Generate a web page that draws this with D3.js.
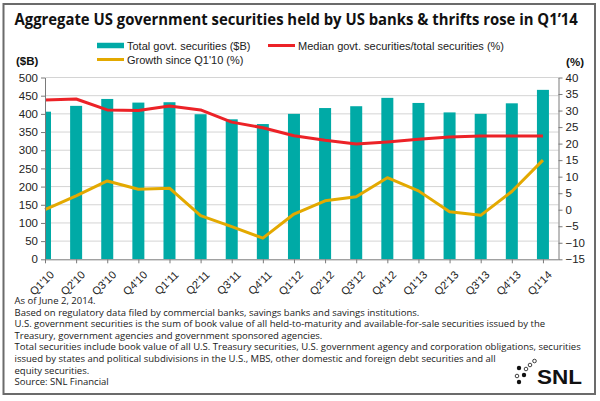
<!DOCTYPE html>
<meta charset="utf-8">
<script src="https://d3js.org/d3.v7.min.js"></script>
<style>
  body { margin: 0; background: #fff; }
  svg text { font-family: "Liberation Sans", Arial, sans-serif; }
</style>
<div id="chart"></div>
<script>

// data
var quarters = ["Q1'10", "Q2'10", "Q3'10", "Q4'10", "Q1'11", "Q2'11", "Q3'11", "Q4'11",
                "Q1'12", "Q2'12", "Q3'12", "Q4'12", "Q1'13", "Q2'13", "Q3'13", "Q4'13", "Q1'14"];
var totalSecurities = [406, 422, 441, 431, 432, 399, 385, 372, 400, 416, 421, 444, 430, 404, 400, 429, 466];
var medianShare = [33.2, 33.5, 30.2, 30.0, 31.4, 30.2, 26.5, 24.8, 22.4, 21.0, 19.9, 20.5, 21.3, 22.0, 22.3, 22.3, 22.3];
var growthSinceQ110 = [0, 4.2, 8.7, 6.2, 6.5, -1.8, -5.1, -8.6, -1.3, 2.7, 3.9, 9.7, 5.7, -0.6, -1.7, 5.5, 15.0];
var leftTicks = d3.range(0, 501, 50);
var rightTicks = d3.range(-15, 41, 5);

var seriesNames = ["Total govt. securities ($B)", "Median govt. securities/total securities (%)", "Growth since Q1'10 (%)"];
var teal = "#00aaa6", red = "#ec2227", gold = "#e3a900";

var title = "Aggregate US government securities held by US banks & thrifts rose in Q1\u201914";
var notes = [
  "As of June 2, 2014.",
  "Based on regulatory data filed by commercial banks, savings banks and savings institutions.",
  "U.S. government securities is the sum of book value of all held-to-maturity and available-for-sale securities issued by the",
  "Treasury, government agencies and government sponsored agencies.",
  "Total securities include book value of all U.S. Treasury securities, U.S. government agency and corporation obligations, securities",
  "issued by states and political subdivisions in the U.S., MBS, other domestic and foreign debt securities and all",
  "equity securities.",
  "Source: SNL Financial"
];

var W = 600, H = 401;
var plot = {left: 45, right: 558.5, top: 77.5, bottom: 259.3};

var svg = d3.select("#chart").append("svg")
    .attr("width", W)
    .attr("height", H);

// outer frame
svg.append("rect")
    .attr("x", 3.5).attr("y", 4)
    .attr("width", 591.5).attr("height", 390)
    .attr("fill", "none")
    .attr("stroke", "#6b6b6b")
    .attr("stroke-width", 2);

// title, squeezed horizontally to the width it has in the original
var titleText = svg.append("text")
    .attr("x", 0).attr("y", 0)
    .style("font-family", "'Open Sans', sans-serif")
    .style("font-weight", "bold")
    .style("font-size", "15.5px")
    .style("fill", "#111")
    .text(title);
var titleW = titleText.node().getComputedTextLength();
titleText.attr("transform", "translate(14.5,24.5) scale(" + (564 / titleW) + ",1)");

// scales
var step = (plot.right - plot.left) / 16.5;
var x = d3.scalePoint()
    .domain(quarters)
    .range([plot.left, plot.left + step * (quarters.length - 1)]);

var yL = d3.scaleLinear().domain([0, 500]).range([plot.bottom, plot.top]);
var yR = d3.scaleLinear().domain([-15, 40]).range([plot.bottom, plot.top]);

// gridlines
svg.append("g")
  .selectAll("line")
  .data(leftTicks.filter(function(d) { return d > 0; }))
  .enter().append("line")
    .attr("x1", plot.left).attr("x2", plot.right)
    .attr("y1", function(d) { return yL(d); })
    .attr("y2", function(d) { return yL(d); })
    .attr("stroke", "#d4d4d4")
    .attr("stroke-width", 1);

// bars, clipped to the plot area
svg.append("clipPath").attr("id", "plotclip")
  .append("rect")
    .attr("x", plot.left).attr("y", plot.top - 10)
    .attr("width", plot.right - plot.left).attr("height", plot.bottom - plot.top + 10);

var barW = 12;
svg.append("g")
    .attr("clip-path", "url(#plotclip)")
  .selectAll("rect")
  .data(totalSecurities)
  .enter().append("rect")
    .attr("x", function(d, i) { return x(quarters[i]) - barW / 2; })
    .attr("y", function(d) { return yL(d); })
    .attr("width", barW)
    .attr("height", function(d) { return yL(0) - yL(d); })
    .attr("fill", teal);

// lines
var lineR = d3.line()
    .x(function(d, i) { return x(quarters[i]); })
    .y(function(d) { return yR(d); });

svg.append("path")
    .datum(medianShare)
    .attr("d", lineR)
    .attr("fill", "none")
    .attr("stroke", red)
    .attr("stroke-width", 3)
    .attr("stroke-linejoin", "round");

svg.append("path")
    .datum(growthSinceQ110)
    .attr("d", lineR)
    .attr("fill", "none")
    .attr("stroke", gold)
    .attr("stroke-width", 3)
    .attr("stroke-linejoin", "round");

// axes
var axisColor = "#7a7a7a";
function styleAxis(g) {
  g.selectAll(".domain").attr("stroke", axisColor);
  g.selectAll(".tick line").attr("stroke", axisColor);
  g.selectAll(".tick text")
    .style("font-family", "'Liberation Sans', Arial, sans-serif")
    .style("font-size", "11.5px")
    .attr("fill", "#222");
}

svg.append("g")
    .attr("transform", "translate(" + plot.left + ",0)")
    .call(d3.axisLeft(yL).tickValues(leftTicks).tickSize(4).tickSizeOuter(0).tickPadding(3))
    .call(styleAxis);

svg.append("g")
    .attr("transform", "translate(" + plot.right + ",0)")
    .call(d3.axisRight(yR).tickValues(rightTicks).tickSize(4).tickSizeOuter(0).tickPadding(3))
    .call(styleAxis);

var xAxis = svg.append("g")
    .attr("transform", "translate(0," + plot.bottom + ")")
    .call(d3.axisBottom(x).tickSize(4).tickSizeOuter(0).tickPadding(2))
    .call(styleAxis);
xAxis.select(".domain").attr("d", "M" + plot.left + ",0.5H" + plot.right);
xAxis.selectAll(".tick text")
    .style("font-size", "11px")
    .attr("text-anchor", "end")
    .attr("dy", "0")
    .attr("transform", "translate(5,12) rotate(-45)");

// axis unit labels
svg.append("text")
    .attr("x", 16).attr("y", 65)
    .style("font-weight", "bold").style("font-size", "11.5px")
    .attr("fill", "#111")
    .text("($B)");
svg.append("text")
    .attr("x", 584).attr("y", 66)
    .attr("text-anchor", "end")
    .style("font-weight", "bold").style("font-size", "11.5px")
    .attr("fill", "#111")
    .text("(%)");

// legend
var legend = [
  {name: seriesNames[0], color: teal, h: 5.5, x: 97, y: 45.5},
  {name: seriesNames[1], color: red, h: 3, x: 268, y: 45.5},
  {name: seriesNames[2], color: gold, h: 3, x: 97, y: 59.5}
];
var lg = svg.append("g").selectAll("g").data(legend).enter().append("g");
lg.append("rect")
    .attr("x", function(d) { return d.x; })
    .attr("y", function(d) { return d.y - d.h / 2; })
    .attr("width", 27)
    .attr("height", function(d) { return d.h; })
    .attr("fill", function(d) { return d.color; });
lg.append("text")
    .attr("x", function(d) { return d.x + 30; })
    .attr("y", function(d) { return d.y + 4; })
    .style("font-size", "11px")
    .attr("fill", "#222")
    .text(function(d) { return d.name; });

// footnotes: one shared horizontal squeeze so the longest line fits like the original
var noteG = svg.append("g");
var noteTexts = noteG.selectAll("text")
  .data(notes)
  .enter().append("text")
    .attr("x", 0)
    .attr("y", function(d, i) { return i * 11.6; })
    .style("font-family", "'Open Sans', sans-serif")
    .style("font-size", "9.6px")
    .attr("fill", "#1a1a1a")
    .text(function(d) { return d; });
var longest = d3.max(noteTexts.nodes(), function(n) { return n.getComputedTextLength(); });
noteG.attr("transform", "translate(14.5,304) scale(" + (567 / longest) + ",1)");

// SNL logo
var dots = [
  {x: 519, y: 368, r: 2.2, fill: true},
  {x: 526, y: 369, r: 1.8, fill: false},
  {x: 530, y: 365, r: 1.8, fill: false},
  {x: 534.5, y: 361, r: 1.8, fill: false},
  {x: 517, y: 376, r: 1.8, fill: false},
  {x: 524, y: 375, r: 2.2, fill: true},
  {x: 519, y: 382, r: 2.2, fill: true}
];
var logo = svg.append("g");
logo.selectAll("circle").data(dots).enter().append("circle")
    .attr("cx", function(d) { return d.x; })
    .attr("cy", function(d) { return d.y; })
    .attr("r", function(d) { return d.r; })
    .attr("fill", function(d) { return d.fill ? "#111" : "#fff"; })
    .attr("stroke", "#111")
    .attr("stroke-width", function(d) { return d.fill ? 0 : 0.8; });
logo.append("text")
    .attr("x", 537).attr("y", 383.5)
    .attr("textLength", 45)
    .attr("lengthAdjust", "spacingAndGlyphs")
    .style("font-weight", "bold")
    .style("font-size", "21px")
    .attr("fill", "#111")
    .text("SNL");

</script>
